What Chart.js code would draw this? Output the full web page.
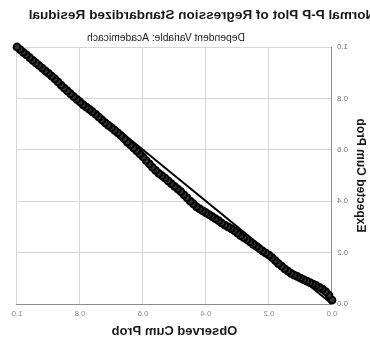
<!DOCTYPE html>
<html>
<head>
<meta charset="utf-8">
<script src="https://cdn.jsdelivr.net/npm/chart.js@4/dist/chart.umd.min.js"></script>
<style>
  html, body { margin: 0; padding: 0; background: #fff; }
  #wrap { width: 370px; height: 338px; transform: scaleX(-1); }
</style>
</head>
<body>
<div id="wrap"><canvas id="pp" width="370" height="338"></canvas></div>
<script>
// --- DATA ---
const mainTitle = 'Normal P-P Plot of Regression Standardized Residual';
const subTitle = 'Dependent Variable: Academicach';
const xTitle = 'Observed Cum Prob';
const yTitle = 'Expected Cum Prob';
const tickValues = [0, 0.2, 0.4, 0.6, 0.8, 1.0];

const observed = [
    0.00, 0.01, 0.02, 0.03, 0.04, 0.05, 0.06, 0.07, 0.08, 0.09,
    0.10, 0.11, 0.12, 0.13, 0.14, 0.15, 0.16, 0.17, 0.18, 0.19,
    0.20, 0.21, 0.22, 0.23, 0.24, 0.25, 0.26, 0.27, 0.28, 0.29,
    0.30, 0.31, 0.32, 0.33, 0.34, 0.35, 0.36, 0.37, 0.38, 0.39,
    0.40, 0.41, 0.42, 0.43, 0.44, 0.45, 0.46, 0.47, 0.48, 0.49,
    0.50, 0.51, 0.52, 0.53, 0.54, 0.55, 0.56, 0.57, 0.58, 0.59,
    0.60, 0.61, 0.62, 0.63, 0.64, 0.65, 0.66, 0.67, 0.68, 0.69,
    0.70, 0.71, 0.72, 0.73, 0.74, 0.75, 0.76, 0.77, 0.78, 0.79,
    0.80, 0.81, 0.82, 0.83, 0.84, 0.85, 0.86, 0.87, 0.88, 0.89,
    0.90, 0.91, 0.92, 0.93, 0.94, 0.95, 0.96, 0.97, 0.98, 0.99, 1.00
];
const expected = [
    0.015, 0.035, 0.048, 0.058, 0.065, 0.072, 0.077, 0.083, 0.089, 0.095,
    0.101, 0.107, 0.112, 0.119, 0.128, 0.137, 0.147, 0.157, 0.169, 0.180,
    0.190, 0.198, 0.206, 0.215, 0.224, 0.232, 0.242, 0.250, 0.258, 0.266,
    0.276, 0.285, 0.293, 0.300, 0.307, 0.315, 0.324, 0.332, 0.340, 0.348,
    0.355, 0.362, 0.370, 0.378, 0.390, 0.400, 0.413, 0.425, 0.437, 0.448,
    0.458, 0.468, 0.479, 0.490, 0.499, 0.508, 0.520, 0.532, 0.545, 0.558,
    0.572, 0.584, 0.596, 0.607, 0.619, 0.630, 0.643, 0.655, 0.666, 0.676,
    0.686, 0.695, 0.705, 0.716, 0.727, 0.738, 0.748, 0.757, 0.766, 0.775,
    0.786, 0.796, 0.807, 0.818, 0.829, 0.840, 0.852, 0.864, 0.876, 0.887,
    0.897, 0.907, 0.918, 0.928, 0.938, 0.948, 0.959, 0.969, 0.979, 0.990, 1.000
];
const diagX = [0, 1];
const diagY = [0, 1];

const FONT = '"Liberation Sans", Arial, sans-serif';

// titles sit off-centre in the source image, so they are drawn by hand
const titlePlugin = {
    id: 'ppTitles',
    afterDraw(chart) {
        const ctx = chart.ctx;
        ctx.save();
        ctx.fillStyle = '#1a1a1a';
        ctx.textAlign = 'center';
        ctx.textBaseline = 'middle';
        ctx.font = 'bold 13.6px ' + FONT;
        ctx.fillText(mainTitle, 168, 15);
        ctx.font = '10.3px ' + FONT;
        ctx.fillText(subTitle, 204, 38);
        ctx.restore();
    }
};

const ctx = document.getElementById('pp').getContext('2d');
new Chart(ctx, {
    type: 'scatter',
    data: {
        datasets: [
            {
                label: 'Reference',
                data: diagX.map((x, i) => ({ x: x, y: diagY[i] })),
                showLine: true,
                borderColor: '#000',
                borderWidth: 2,
                pointRadius: 0,
                order: 2,
            },
            {
                label: 'Residuals',
                data: observed.map((x, i) => ({ x: x, y: expected[i] })),
                pointRadius: 3.4,
                pointBorderWidth: 2,
                pointBorderColor: '#000',
                pointBackgroundColor: '#333',
                clip: false,
                order: 1,
            },
        ],
    },
    options: {
        responsive: false,
        animation: false,
        layout: { padding: { top: 47, right: 17, left: 0, bottom: 0 } },
        plugins: {
            legend: { display: false },
            tooltip: { enabled: false },
        },
        scales: {
            x: {
                type: 'linear',
                min: 0,
                max: 1,
                afterFit: (scale) => { scale.height = 34; },
                afterBuildTicks: (scale) => {
                    scale.ticks = tickValues.map((v) => ({ value: v }));
                },
                grid: { color: '#d6d6d6', drawTicks: false, lineWidth: 1 },
                border: { color: '#8c8c8c', width: 1 },
                ticks: {
                    color: '#8a8a8a',
                    padding: 5,
                    font: { family: FONT, size: 8 },
                    callback: (v) => Number(v).toFixed(1),
                },
                title: {
                    display: true,
                    text: xTitle,
                    color: '#1a1a1a',
                    font: { family: FONT, size: 13, weight: 'bold', lineHeight: 1 },
                    padding: { top: 0, bottom: 0 },
                },
            },
            y: {
                type: 'linear',
                min: 0,
                max: 1,
                afterFit: (scale) => { scale.width = 38; },
                afterBuildTicks: (scale) => {
                    scale.ticks = tickValues.map((v) => ({ value: v }));
                },
                grid: { color: '#d6d6d6', drawTicks: false, lineWidth: 1 },
                border: { color: '#8c8c8c', width: 1 },
                ticks: {
                    color: '#777',
                    padding: 5,
                    font: { family: FONT, size: 8 },
                    callback: (v) => Number(v).toFixed(1),
                },
                title: {
                    display: true,
                    text: yTitle,
                    color: '#1a1a1a',
                    font: { family: FONT, size: 12, weight: 'bold', lineHeight: 1 },
                    padding: { top: 4, bottom: 0 },
                },
            },
        },
    },
    plugins: [titlePlugin],
});
</script>
</body>
</html>
